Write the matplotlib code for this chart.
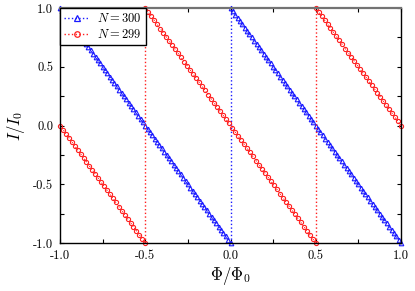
import numpy as np
import matplotlib.pyplot as plt
from matplotlib.lines import Line2D

plt.rcParams['mathtext.fontset'] = 'cm'
plt.rcParams['font.family'] = 'cmr10'

# sawtooth branches: (phi start, phi end, I start, I end, markers seen)
branches_300 = [(-1.0, 0.0, 1.0, -1.0, 72), (0.0, 1.0, 1.0, -1.0, 72)]
jumps_300 = [0.0]
branches_299 = [(-1.0, -0.5, 0.0, -1.0, 29), (-0.5, 0.5, 1.0, -1.0, 57), (0.5, 1.0, 1.0, 0.0, 29)]
jumps_299 = [-0.5, 0.5]

ticks = [-1.0, -0.5, 0.0, 0.5, 1.0]
tick_labels = ['-1.0', '-0.5', '0.0', '0.5', '1.0']
minor = [-0.75, -0.25, 0.25, 0.75]

blue = '#1a1aff'
red = '#ff2020'

fig = plt.figure(figsize=(4.15, 2.91), dpi=100)
ax = fig.add_axes([60 / 415, 48 / 291, 341 / 415, 235 / 291])

for x0, x1, y0, y1, n in branches_300:
    ax.plot(np.linspace(x0, x1, n + 1), np.linspace(y0, y1, n + 1), ls=':', lw=0.8,
            color=blue, marker='^', ms=3.3, mfc='none', mec=blue, mew=0.8, clip_on=False)
for x in jumps_300:
    ax.plot([x, x], [-1, 1], ls=':', lw=1.0, color=blue)
for x0, x1, y0, y1, n in branches_299:
    ax.plot(np.linspace(x0, x1, n + 1), np.linspace(y0, y1, n + 1), ls=':', lw=0.8,
            color=red, marker='o', ms=3.0, mfc='none', mec=red, mew=0.8, clip_on=False)
for x in jumps_299:
    ax.plot([x, x], [-1, 1], ls=':', lw=1.0, color=red)

ax.set_xlim(-1, 1)
ax.set_ylim(-1, 1)
ax.set_xticks(ticks, tick_labels)
ax.set_yticks(ticks, tick_labels)
ax.set_xticks(minor, minor=True)
ax.set_yticks(minor, minor=True)
ax.tick_params(which='both', direction='in', top=True, right=True, length=3,
               width=0.8, labelsize=9, pad=5)
for s in ['left', 'right', 'bottom']:
    ax.spines[s].set_linewidth(1.0)
ax.spines['top'].set_color('0.45')
ax.spines['top'].set_linewidth(1.6)

ax.set_xlabel(r'$\Phi/\Phi_0$', fontsize=12, labelpad=2)
ax.set_ylabel(r'$I/I_0$', fontsize=12, labelpad=4)

handles = [Line2D([], [], ls=':', lw=1.0, color=blue, marker='^', ms=4, mfc='none', mew=0.9),
           Line2D([], [], ls=':', lw=1.0, color=red, marker='o', ms=4, mfc='none', mew=0.9)]
leg = ax.legend(handles, [r'$N = 300$', r'$N = 299$'], loc='upper left',
                borderaxespad=0, fancybox=False, framealpha=1, fontsize=9,
                handlelength=2.0, handletextpad=0.6, borderpad=0.35, labelspacing=0.2)
leg.get_frame().set_edgecolor('black')
leg.get_frame().set_linewidth(1.0)
leg.set_zorder(5)

fig.savefig('out.png', dpi=100)
